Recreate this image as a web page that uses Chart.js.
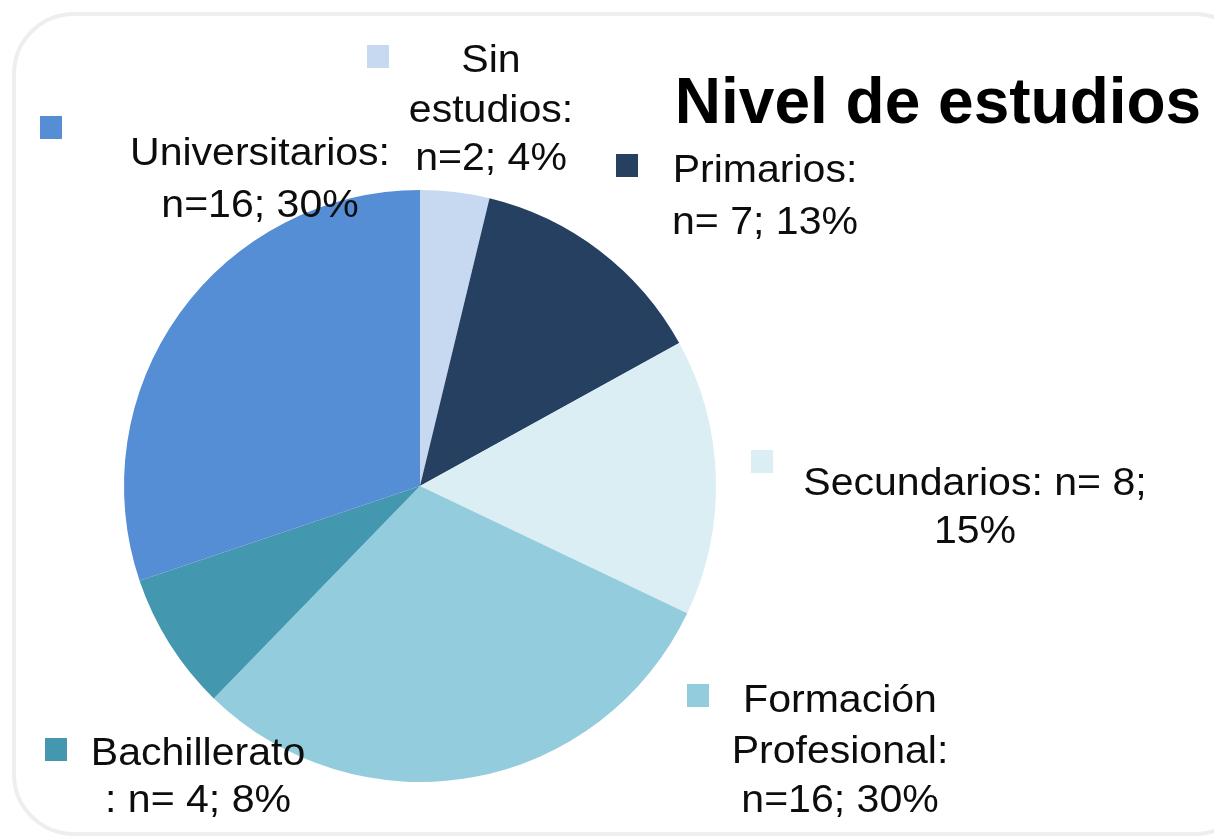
<!DOCTYPE html>
<html>
<head>
<meta charset="utf-8">
<script src="https://cdn.jsdelivr.net/npm/chart.js@4"></script>
<style>
  html, body { margin: 0; padding: 0; background: #ffffff; }
  #wrap { width: 1214px; height: 837px; position: relative; }
</style>
</head>
<body>
<div id="wrap"><canvas id="estudiosChart" width="1214" height="837"></canvas></div>
<script>
// data
const categories = ["Sin estudios", "Primarios", "Secundarios", "Formación Profesional", "Bachillerato", "Universitarios"];
const counts = [2, 7, 8, 16, 4, 16];
const percents = [4, 13, 15, 30, 8, 30];
const labelLines = [
    ["Sin", "estudios:", "n=" + counts[0] + "; " + percents[0] + "%"],
    ["Primarios:", "n= " + counts[1] + "; " + percents[1] + "%"],
    ["Secundarios: n= " + counts[2] + ";", percents[2] + "%"],
    ["Formación", "Profesional:", "n=" + counts[3] + "; " + percents[3] + "%"],
    ["Bachillerato", ": n= " + counts[4] + "; " + percents[4] + "%"],
    ["Universitarios:", "n=" + counts[5] + "; " + percents[5] + "%"]
];
const chartTitle = "Nivel de estudios";

const sliceColors = ["#c6d9f1", "#254061", "#dbeef4", "#93cddd", "#4397ae", "#558ed5"];

// label blocks: marker square, text centre x, baseline of each line
const labelLayout = [
    { box: [367, 45], x: 491, y: [72, 122, 170] },
    { box: [616, 154], x: 765, y: [182, 234] },
    { box: [751, 450], x: 975, y: [495, 543] },
    { box: [687, 684], x: 840, y: [712, 763, 812] },
    { box: [45, 738], x: 198, y: [765, 812] },
    { box: [40, 116], x: 260, y: [165, 217] }
];

const frameAndLabels = {
    id: "frameAndLabels",
    beforeDraw(chart) {
        const ctx = chart.ctx;
        ctx.save();
        ctx.strokeStyle = "#eeeeee";
        ctx.lineWidth = 4;
        ctx.beginPath();
        ctx.roundRect(14, 14, 1240, 820, 60);
        ctx.stroke();
        ctx.restore();
    },
    afterDraw(chart) {
        const ctx = chart.ctx;
        ctx.save();
        ctx.textAlign = "center";
        ctx.textBaseline = "alphabetic";

        labelLines.forEach((lines, i) => {
            const lay = labelLayout[i];
            ctx.fillStyle = sliceColors[i];
            ctx.fillRect(lay.box[0], lay.box[1], 22, 23);
            ctx.fillStyle = "#0d0d0d";
            ctx.font = "38px 'Liberation Sans'";
            lines.forEach((line, j) => {
                ctx.save();
                ctx.translate(lay.x, lay.y[j]);
                ctx.scale(1.08, 1);
                ctx.fillText(line, 0, 0);
                ctx.restore();
            });
        });

        ctx.fillStyle = "#000000";
        ctx.font = "bold 64px 'Liberation Sans'";
        ctx.fillText(chartTitle, 938, 123);

        ctx.restore();
    }
};

const ctx = document.getElementById("estudiosChart");

new Chart(ctx, {
    type: "pie",
    data: {
        labels: categories,
        datasets: [{
            data: counts,
            backgroundColor: sliceColors,
            borderWidth: 0
        }]
    },
    options: {
        responsive: false,
        animation: false,
        layout: {
            padding: { left: 124, right: 498, top: 190, bottom: 55 }
        },
        plugins: {
            legend: { display: false },
            title: { display: false },
            tooltip: { enabled: false }
        }
    },
    plugins: [frameAndLabels]
});
</script>
</body>
</html>
